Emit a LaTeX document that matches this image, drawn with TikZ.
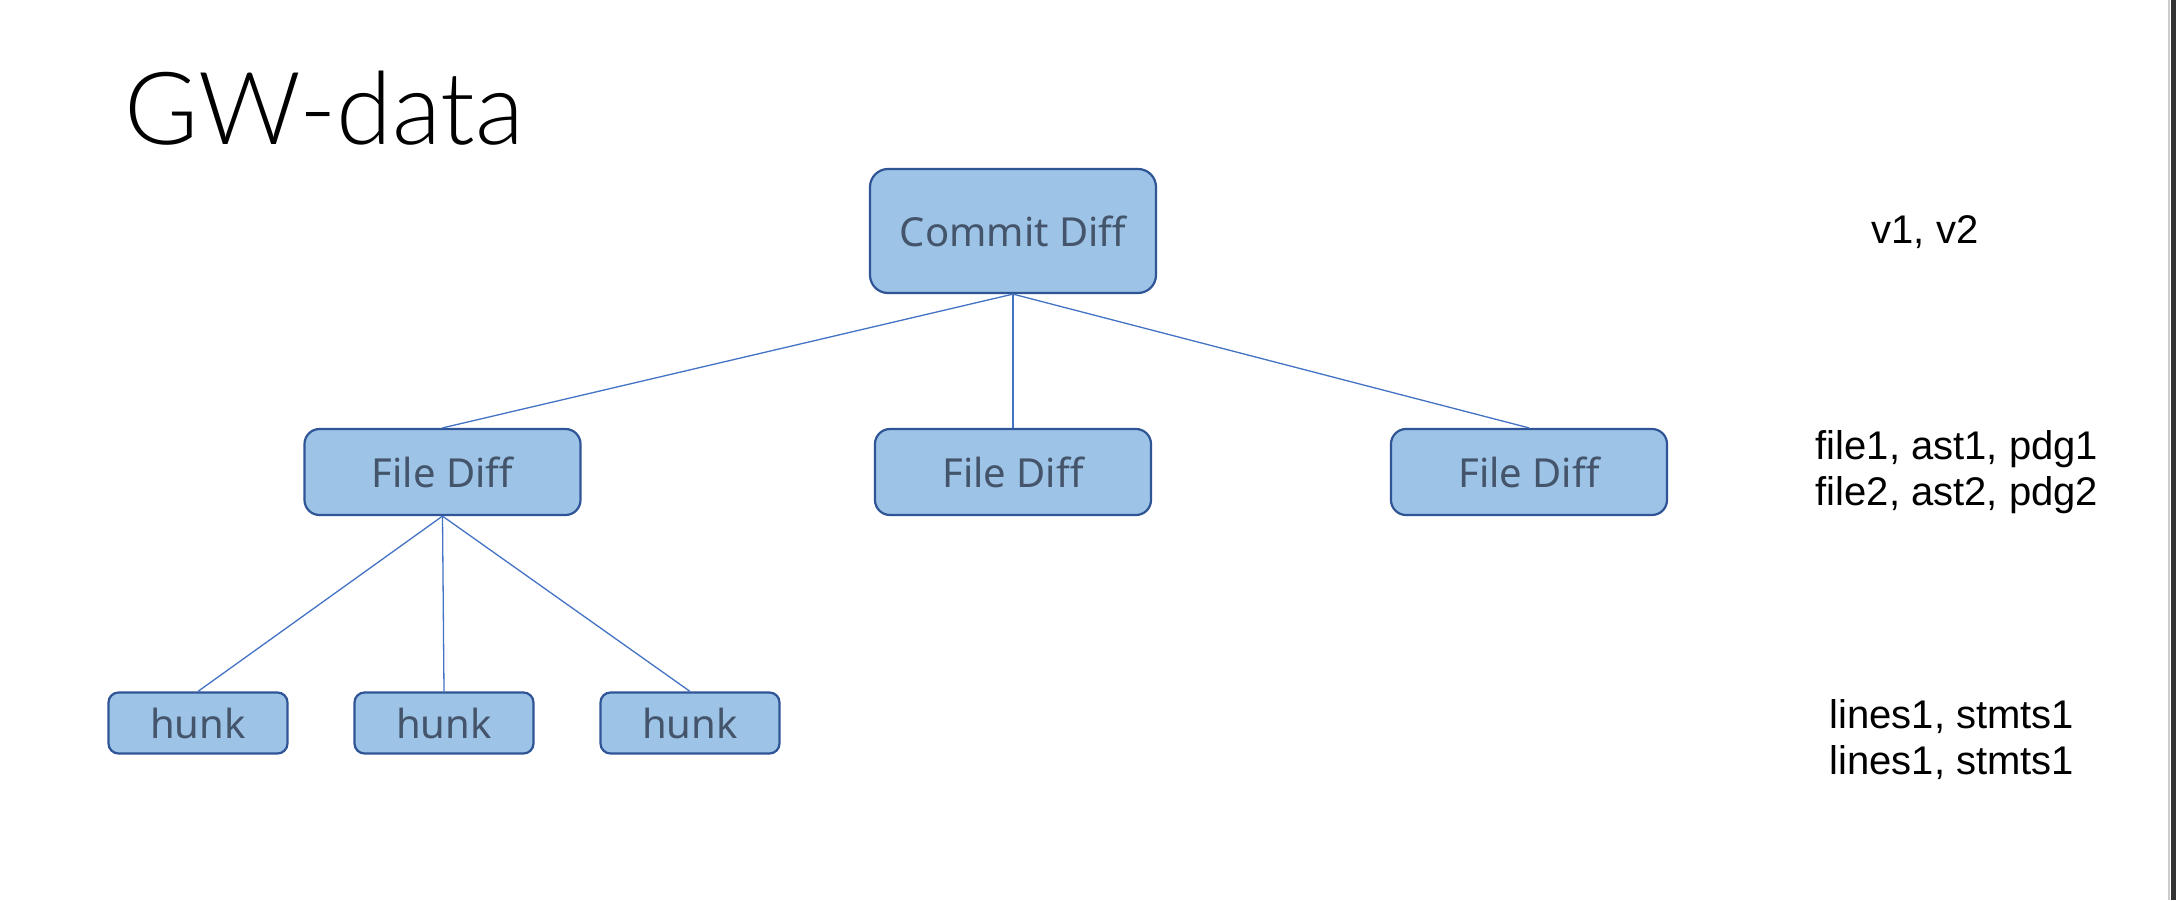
\documentclass[tikz,border=0pt]{standalone}
\usepackage{fontspec}
\setmainfont{Noto Sans}
\newfontfamily\titlefont{Lato}[UprightFont={* Light}]
\newfontfamily\notefont{Liberation Sans}
\definecolor{boxfill}{HTML}{9DC3E6}
\definecolor{boxline}{HTML}{2F5597}
\definecolor{boxtext}{HTML}{44546A}
\definecolor{linkc}{HTML}{4472C4}
\begin{document}
\begin{tikzpicture}[x=1pt,y=-1pt,
  box/.style={draw=boxline,line width=2.2pt,fill=boxfill,text=boxtext,inner sep=0pt,
    font=\fontsize{40}{48}\selectfont},
  bigbox/.style={box,rounded corners=18pt,minimum width=286pt,minimum height=124pt},
  filebox/.style={box,rounded corners=15pt,minimum width=276pt,minimum height=86pt},
  hunkbox/.style={box,rounded corners=10pt,minimum width=179pt,minimum height=61pt},
  link/.style={draw=linkc,line width=1.3pt},
  note/.style={font=\notefont\fontsize{40}{46}\selectfont,align=center,inner sep=0pt}]
\useasboundingbox (0,0) rectangle (2176,900);
\fill[white] (0,0) rectangle (2176,900);
\fill[black!80] (2171,0) rectangle (2176,900);
\draw[black!20,line width=2pt] (2169,0) -- (2169,900);
\node[anchor=base west,inner sep=0pt,font=\titlefont\fontsize{101}{120}\selectfont] (title) at (124,144) {GW-data};
\node[bigbox] (commit) at (1013,231) {Commit Diff};
\node[filebox] (f1) at (442.5,472) {File Diff};
\node[filebox] (f2) at (1013,472) {File Diff};
\node[filebox] (f3) at (1529,472) {File Diff};
\node[hunkbox] (h1) at (198,723) {hunk};
\node[hunkbox] (h2) at (444,723) {hunk};
\node[hunkbox] (h3) at (690,723) {hunk};
\draw[link] (commit.south) -- (f1.north);
\draw[link] (commit.south) -- (f2.north);
\draw[link] (commit.south) -- (f3.north);
\draw[link] (f1.south) -- (h1.north);
\draw[link] (f1.south) -- (h2.north);
\draw[link] (f1.south) -- (h3.north);
\node[note] (n1) at (1925,232) {v1, v2};
\node[note] (n2) at (1957,472) {file1, ast1, pdg1\\file2, ast2, pdg2};
\node[note] (n3) at (1952,740) {lines1, stmts1\\lines1, stmts1};
\end{tikzpicture}
\end{document}
